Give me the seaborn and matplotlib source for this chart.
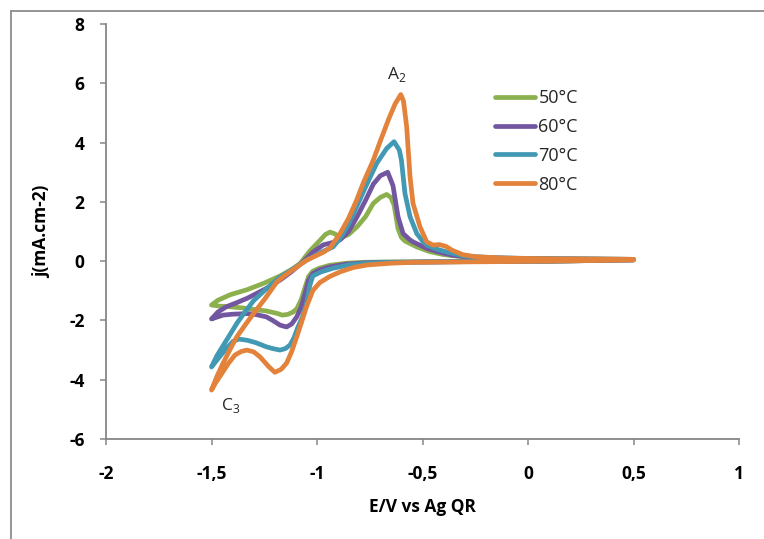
import matplotlib
matplotlib.use("Agg")
import matplotlib.pyplot as plt
from matplotlib.lines import Line2D
import seaborn as sns
import pandas as pd

# ---------------- data ----------------
temps = ["50°C", "60°C", "70°C", "80°C"]
colors = ["#8DB04F", "#7356A0", "#4299B4", "#E3823B"]

e_50 = [0.5, 0.3, 0.1, -0.2, -0.5, -0.7, -0.78, -0.86, -0.94, -0.99, -1.02, -1.04, -1.055, -1.075,
        -1.095, -1.114, -1.14, -1.165, -1.19, -1.24, -1.29, -1.35, -1.41, -1.46, -1.5,
        -1.47, -1.41, -1.33, -1.25, -1.175, -1.12, -1.08, -1.033, -0.986, -0.96, -0.938, -0.915,
        -0.89, -0.85, -0.81, -0.77, -0.733, -0.70, -0.67, -0.65, -0.635, -0.616, -0.6, -0.583,
        -0.527, -0.465, -0.4, -0.3, -0.15, 0.1, 0.3, 0.5]
j_50 = [0.05, 0.02, 0.0, -0.01, -0.02, -0.03, -0.04, -0.07, -0.14, -0.24, -0.34, -0.52, -0.85, -1.3,
        -1.6, -1.72, -1.8, -1.82, -1.76, -1.68, -1.64, -1.58, -1.54, -1.52, -1.48,
        -1.32, -1.13, -0.96, -0.74, -0.5, -0.28, -0.08, 0.35, 0.7, 0.9, 0.98, 0.92,
        0.78, 0.9, 1.16, 1.5, 1.95, 2.15, 2.25, 2.15, 1.9, 1.1, 0.8, 0.68,
        0.48, 0.32, 0.22, 0.14, 0.1, 0.08, 0.07, 0.06]

e_60 = [0.5, 0.3, 0.1, -0.2, -0.5, -0.7, -0.78, -0.86, -0.938, -0.99, -1.02, -1.04, -1.057, -1.075,
        -1.096, -1.12, -1.144, -1.175, -1.21, -1.24, -1.29, -1.33, -1.4, -1.445, -1.5,
        -1.47, -1.43, -1.38, -1.33, -1.24, -1.175, -1.12, -1.066, -1.02, -0.97, -0.93, -0.89,
        -0.85, -0.81, -0.77, -0.733, -0.70, -0.665, -0.64, -0.616, -0.592, -0.56, -0.545,
        -0.48, -0.43, -0.36, -0.25, -0.1, 0.1, 0.3, 0.5]
j_60 = [0.04, 0.02, 0.0, -0.01, -0.03, -0.04, -0.06, -0.1, -0.19, -0.3, -0.42, -0.65, -1.1, -1.55,
        -1.88, -2.12, -2.22, -2.16, -2.0, -1.88, -1.8, -1.77, -1.79, -1.82, -1.95,
        -1.72, -1.54, -1.4, -1.25, -0.92, -0.64, -0.35, -0.02, 0.3, 0.55, 0.62, 0.72,
        1.0, 1.5, 2.05, 2.6, 2.88, 3.0, 2.55, 1.5, 0.93, 0.72, 0.65,
        0.43, 0.32, 0.2, 0.12, 0.1, 0.08, 0.07, 0.06]

e_70 = [0.5, 0.3, 0.1, -0.2, -0.5, -0.7, -0.764, -0.85, -0.924, -0.98, -1.02, -1.035, -1.05, -1.07,
        -1.09, -1.11, -1.128, -1.15, -1.175, -1.21, -1.24, -1.29, -1.33, -1.37, -1.397, -1.43,
        -1.47, -1.5,
        -1.475, -1.445, -1.41, -1.38, -1.34, -1.30, -1.25, -1.21, -1.175, -1.11, -1.05, -0.98,
        -0.924, -0.89, -0.85, -0.812, -0.77, -0.717, -0.67, -0.635, -0.61, -0.60, -0.583, -0.559,
        -0.527, -0.5, -0.48, -0.43, -0.38, -0.3, -0.15, 0.1, 0.3, 0.5]
j_70 = [0.04, 0.02, 0.0, -0.01, -0.03, -0.05, -0.07, -0.13, -0.24, -0.36, -0.5, -0.85, -1.45, -1.9,
        -2.22, -2.6, -2.83, -2.95, -3.0, -2.95, -2.89, -2.75, -2.67, -2.63, -2.7, -2.95,
        -3.3, -3.57,
        -3.2, -2.85, -2.45, -2.1, -1.7, -1.33, -1.0, -0.75, -0.54, -0.25, 0.03, 0.3,
        0.48, 0.77, 1.25, 1.84, 2.5, 3.3, 3.8, 4.03, 3.75, 3.41, 2.28, 1.5,
        0.93, 0.68, 0.54, 0.4, 0.3, 0.17, 0.11, 0.08, 0.07, 0.06]

e_80 = [0.5, 0.3, 0.1, -0.2, -0.545, -0.65, -0.764, -0.83, -0.89, -0.94, -0.986, -1.019, -1.05,
        -1.075, -1.096, -1.12, -1.144, -1.17, -1.2, -1.23, -1.27, -1.30, -1.333, -1.36, -1.389,
        -1.42, -1.452, -1.48, -1.5,
        -1.475, -1.445, -1.41, -1.38, -1.34, -1.30, -1.25, -1.19, -1.16, -1.1, -1.05, -0.97,
        -0.938, -0.89, -0.85, -0.812, -0.78, -0.733, -0.70, -0.66, -0.63, -0.603, -0.59, -0.575,
        -0.559, -0.545, -0.512, -0.48, -0.45, -0.42, -0.39, -0.36, -0.31, -0.25, -0.1, 0.1, 0.3, 0.5]
j_80 = [0.04, 0.02, 0.0, -0.02, -0.04, -0.07, -0.13, -0.22, -0.36, -0.52, -0.72, -0.98, -1.54,
        -2.1, -2.55, -3.05, -3.44, -3.65, -3.75, -3.55, -3.23, -3.06, -3.0, -3.05, -3.17,
        -3.45, -3.8, -4.1, -4.35,
        -3.9, -3.44, -2.95, -2.55, -2.15, -1.76, -1.3, -0.7, -0.52, -0.22, 0.03, 0.3,
        0.45, 0.94, 1.45, 2.06, 2.65, 3.41, 4.05, 4.8, 5.3, 5.62, 5.4, 4.53,
        2.84, 1.95, 1.16, 0.65, 0.54, 0.56, 0.5, 0.37, 0.22, 0.15, 0.1, 0.08, 0.07, 0.06]

series_e = [e_50, e_60, e_70, e_80]
series_j = [j_50, j_60, j_70, j_80]

x_ticks = [-2, -1.5, -1, -0.5, 0, 0.5, 1]
x_tick_labels = ["-2", "-1,5", "-1", "-0,5", "0", "0,5", "1"]
y_ticks = [-6, -4, -2, 0, 2, 4, 6, 8]
y_tick_labels = ["-6", "-4", "-2", "0", "2", "4", "6", "8"]

x_label = "E/V vs Ag QR"
y_label = "j(mA.cm-2)"

# ---------------- style ----------------
sns.set_theme(style="white")
plt.rcParams["font.family"] = ["Open Sans", "DejaVu Sans"]
axis_gray = "#868686"

fig = plt.figure(figsize=(7.64, 5.39), dpi=100)
ax = fig.add_axes([106 / 764, 1 - 439 / 539, 633 / 764, 415 / 539])

for e, j, lab, col in zip(series_e, series_j, temps, colors):
    df = pd.DataFrame({"E": e, "j": j})
    sns.lineplot(data=df, x="E", y="j", sort=False, estimator=None, ax=ax,
                 color=col, linewidth=3.4, label=lab,
                 solid_joinstyle="round", solid_capstyle="round")

ax.set_xlim(-2, 1)
ax.set_ylim(-6, 8)
ax.set_xticks(x_ticks)
ax.set_xticklabels(x_tick_labels)
ax.set_yticks(y_ticks)
ax.set_yticklabels(y_tick_labels)

for s in ["top", "right"]:
    ax.spines[s].set_visible(False)
for s in ["left", "bottom"]:
    ax.spines[s].set_color(axis_gray)
    ax.spines[s].set_linewidth(1.3)

ax.tick_params(axis="both", which="major", direction="out", length=4.5, width=1.1,
               color=axis_gray, labelsize=12.5, labelcolor="black",
               bottom=True, left=True)
ax.tick_params(axis="x", pad=14)
ax.tick_params(axis="y", pad=11)
for t in ax.get_xticklabels() + ax.get_yticklabels():
    t.set_fontweight("bold")

ax.set_xlabel(x_label, fontsize=12.5, fontweight="bold", color="black", labelpad=11)
ax.set_ylabel(y_label, fontsize=12.5, fontweight="bold", color="black", labelpad=13)
ax.grid(False)

leg = ax.legend(loc="upper left", bbox_to_anchor=((495 - 106) / 633, (439 - 89) / 415),
                frameon=False, fontsize=13, handlelength=2.2, handletextpad=0.2,
                labelspacing=0.6, borderpad=0, borderaxespad=0)
for line in leg.get_lines():
    line.set_linewidth(3.4)

ax.text(-0.621, 6.31, r"A$_{\mathregular{2}}$", fontsize=12.5, ha="center", va="center")
ax.text(-1.408, -4.86, r"C$_{\mathregular{3}}$", fontsize=12.5, ha="center", va="center")

# outer chart border (top and left visible in the reference crop)
fig.add_artist(Line2D([11 / 764, 1.0], [1 - 11 / 539, 1 - 11 / 539], transform=fig.transFigure,
                      color="#8c8c8c", linewidth=1.3))
fig.add_artist(Line2D([11 / 764, 11 / 764], [0.0, 1 - 11 / 539], transform=fig.transFigure,
                      color="#8c8c8c", linewidth=1.3))

fig.savefig("out.png", dpi=100)
